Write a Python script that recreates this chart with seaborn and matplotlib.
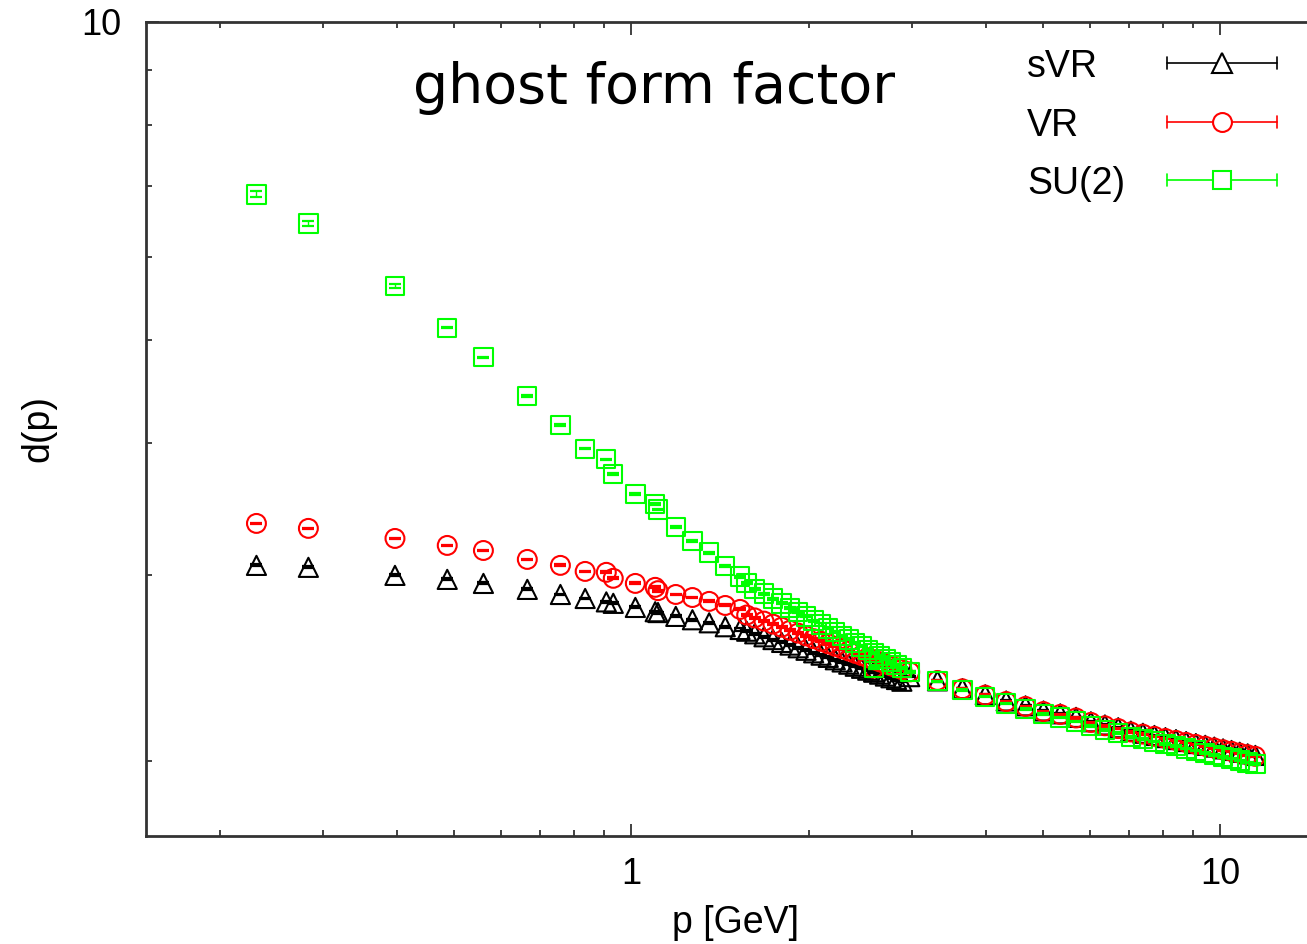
import numpy as np
import pandas as pd
import matplotlib
matplotlib.use("Agg")
import matplotlib.pyplot as plt
from matplotlib.lines import Line2D
from matplotlib.ticker import LogLocator, FuncFormatter, NullFormatter
import seaborn as sns

# ---------------- data ----------------
series_names = ["sVR", "VR", "SU(2)"]

# momenta of the coarse (low-p) lattice
p_low = [0.231, 0.283, 0.397, 0.487, 0.561, 0.666, 0.758, 0.835, 0.907, 0.932,
         1.016, 1.098, 1.11, 1.19, 1.27, 1.356, 1.444, 1.53, 1.57,
         1.62, 1.68, 1.74, 1.80, 1.86, 1.92, 1.98, 2.04, 2.10, 2.16, 2.22,
         2.28, 2.34, 2.40, 2.46, 2.52, 2.58, 2.64, 2.70, 2.76, 2.82, 2.88]
# momenta of the fine (high-p) lattice
p_high = [2.58, 2.97, 3.31, 3.65, 3.99, 4.33, 4.67, 5.01, 5.35, 5.69, 6.03,
          6.37, 6.71, 7.05, 7.39, 7.73, 8.07, 8.41, 8.75, 9.09, 9.43, 9.77,
          10.11, 10.45, 10.79, 11.13, 11.47]

svr_low = [3.064, 3.051, 2.998, 2.972, 2.946, 2.908, 2.876, 2.851, 2.830, 2.821,
           2.796, 2.770, 2.765, 2.742, 2.722, 2.704, 2.681, 2.665, 2.655,
           2.640, 2.623, 2.607, 2.591, 2.576, 2.561, 2.547, 2.533, 2.520, 2.508,
           2.495, 2.483, 2.471, 2.460, 2.449, 2.439, 2.429, 2.418, 2.408, 2.399,
           2.390, 2.381]
vr_low = [3.357, 3.321, 3.249, 3.200, 3.165, 3.104, 3.064, 3.024, 3.018, 2.979,
          2.946, 2.921, 2.900, 2.876, 2.857, 2.833, 2.808, 2.784, 2.750,
          2.733, 2.714, 2.696, 2.678, 2.660, 2.644, 2.628, 2.612, 2.597, 2.583,
          2.569, 2.556, 2.543, 2.530, 2.518, 2.506, 2.495, 2.484, 2.473, 2.462,
          2.452, 2.442]
su2_low = [6.87, 6.45, 5.63, 5.14, 4.82, 4.43, 4.16, 3.95, 3.86, 3.74,
           3.58, 3.50, 3.46, 3.33, 3.23, 3.15, 3.06, 2.99, 2.95,
           2.912, 2.881, 2.850, 2.821, 2.793, 2.767, 2.742, 2.717, 2.694, 2.671,
           2.650, 2.628, 2.608, 2.588, 2.569, 2.550, 2.532, 2.515, 2.498, 2.482,
           2.466, 2.451]

svr_high = [2.430, 2.405, 2.383, 2.343, 2.312, 2.281, 2.257, 2.232, 2.218, 2.201,
            2.180, 2.165, 2.152, 2.136, 2.126, 2.116, 2.106, 2.097, 2.088, 2.079,
            2.071, 2.063, 2.055, 2.048, 2.040, 2.033, 2.026]
vr_high = [2.450, 2.430, 2.385, 2.342, 2.310, 2.278, 2.254, 2.229, 2.215, 2.198,
           2.177, 2.161, 2.148, 2.132, 2.122, 2.112, 2.102, 2.093, 2.084, 2.075,
           2.067, 2.059, 2.051, 2.044, 2.036, 2.029, 2.022]
su2_high = [2.450, 2.430, 2.381, 2.335, 2.302, 2.268, 2.242, 2.216, 2.200, 2.182,
            2.159, 2.142, 2.128, 2.110, 2.099, 2.088, 2.077, 2.067, 2.057, 2.047,
            2.038, 2.029, 2.020, 2.012, 2.003, 1.995, 1.988]

# statistical errors (tiny, mostly below marker resolution)
su2_low_err_first = [0.045, 0.04, 0.02]
err_small = 0.006

# ---------------- build table ----------------
rows = []
low_sets = {"sVR": svr_low, "VR": vr_low, "SU(2)": su2_low}
high_sets = {"sVR": svr_high, "VR": vr_high, "SU(2)": su2_high}
for name in series_names:
    for i, (p, d) in enumerate(zip(p_low, low_sets[name])):
        e = err_small
        if name == "SU(2)" and i < len(su2_low_err_first):
            e = su2_low_err_first[i]
        rows.append((name, p, d, e))
    for p, d in zip(p_high, high_sets[name]):
        rows.append((name, p, d, err_small * 0.6))
df = pd.DataFrame(rows, columns=["series", "p", "d", "err"])

# ---------------- style ----------------
sns.set_theme(style="ticks")
plt.rcParams['font.family'] = ['Liberation Sans', 'DejaVu Sans']
plt.rcParams['axes.edgecolor'] = '#333333'

W, H = 1307, 944
fig = plt.figure(figsize=(W / 100, H / 100), dpi=100)
ax_left, ax_right, ax_top, ax_bottom = 146, 1324, 22, 836
ax = fig.add_axes([ax_left / W, 1 - ax_bottom / H,
                   (ax_right - ax_left) / W, (ax_bottom - ax_top) / H])
ax.set_facecolor('white')

styles = {
    "sVR": dict(marker="^", color="#000000", s=190, z=2),
    "VR": dict(marker="o", color="#ff0000", s=185, z=3),
    "SU(2)": dict(marker="s", color="#00ff00", s=175, z=4),
}

for name in series_names:
    st = styles[name]
    sub = df[df["series"] == name]
    ax.errorbar(sub["p"], sub["d"], yerr=sub["err"], fmt="none",
                ecolor=st["color"], elinewidth=1.0, capsize=4, capthick=1.6,
                zorder=st["z"])
    sns.scatterplot(data=sub, x="p", y="d", marker=st["marker"], s=st["s"],
                    color=st["color"], facecolors="none", edgecolor=st["color"],
                    linewidth=1.5, ax=ax, legend=False, zorder=st["z"] + 0.5)

ax.set_xscale("log")
ax.set_yscale("log")
ax.set_xlim(0.15, 15)
ax.set_ylim(1.7, 10)

fmt = FuncFormatter(lambda v, pos: f"{v:g}")
for axis in (ax.xaxis, ax.yaxis):
    axis.set_major_locator(LogLocator(base=10, numticks=10))
    axis.set_minor_locator(LogLocator(base=10, subs=np.arange(2, 10), numticks=100))
    axis.set_major_formatter(fmt)
    axis.set_minor_formatter(NullFormatter())

ax.tick_params(which="both", direction="in", top=True, right=False,
               color="#333333", width=1.3, labelsize=26, labelcolor="black")
ax.tick_params(which="major", length=9)
ax.tick_params(which="minor", length=4.5)
ax.tick_params(axis="x", which="major", pad=15)
ax.tick_params(axis="y", which="major", pad=18)
for sp in ax.spines.values():
    sp.set_visible(True)
    sp.set_linewidth(2.0)
    sp.set_color("#333333")

ax.set_xlabel("p [GeV]", fontsize=27, color="black")
ax.set_ylabel("d(p)", fontsize=27, color="black")
ax.xaxis.set_label_coords((735 - ax_left) / (ax_right - ax_left),
                          (ax_bottom - 905) / (ax_bottom - ax_top))
ax.yaxis.set_label_coords((56 - ax_left) / (ax_right - ax_left), 0.5)

# title inside plot
fig.text(654 / W, 1 - 103 / H, "ghost form factor", family="DejaVu Sans",
         fontsize=40, ha="center", va="baseline", color="black")

# gnuplot-style key (line with end caps and marker)
key_rows = [("sVR", 63), ("VR", 122), ("SU(2)", 180)]
x_text, x0, x1, xm = 1027, 1167, 1277, 1222
for name, yrow in key_rows:
    st = styles[name]
    yf = 1 - yrow / H
    fig.text(x_text / W, 1 - (yrow + 14) / H, name, fontsize=27,
             ha="left", va="baseline", color="black")
    fig.add_artist(Line2D([x0 / W, x1 / W], [yf, yf], transform=fig.transFigure,
                          color=st["color"], lw=1.2))
    for xc in (x0, x1):
        fig.add_artist(Line2D([xc / W, xc / W], [yf - 6 / H, yf + 6 / H],
                              transform=fig.transFigure, color=st["color"], lw=1.2))
    fig.add_artist(Line2D([xm / W], [yf], transform=fig.transFigure,
                          marker=st["marker"], ms=np.sqrt(st["s"]),
                          mfc="white", mec=st["color"], mew=1.5, ls="none"))

fig.savefig("out.png", dpi=100, facecolor="white")
